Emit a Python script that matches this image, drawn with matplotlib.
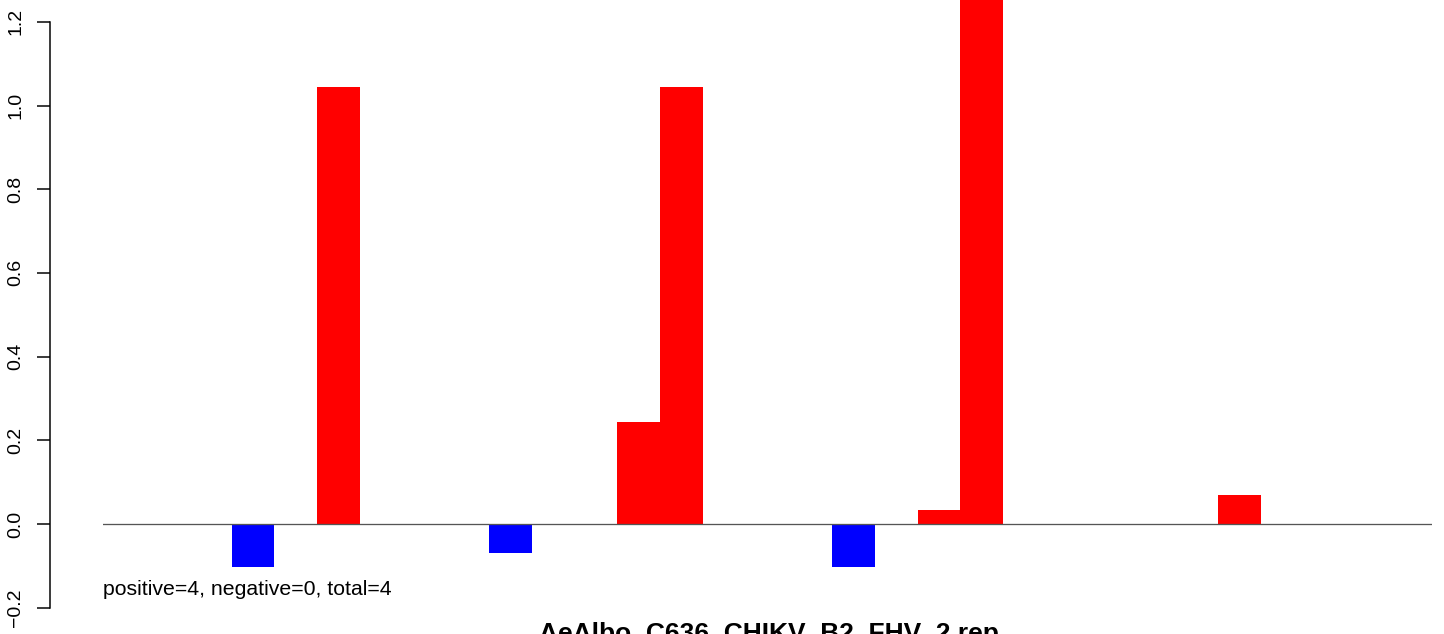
import matplotlib
matplotlib.use("Agg")
import matplotlib.pyplot as plt
import numpy as np

plt.rcParams['font.family'] = ['Liberation Sans', 'DejaVu Sans']

# Bar slots (one per position along the x axis); 0 = empty slot
values = [-0.103, 0, 1.045, 0, 0, 0, -0.069, 0, 0, 0.244, 1.045,
          0, 0, 0, -0.103, 0, 0.033, 1.30, 0, 0, 0, 0, 0, 0.069,
          0, 0, 0, 0]
yticks = [-0.2, 0.0, 0.2, 0.4, 0.6, 0.8, 1.0, 1.2]
title = "AeAlbo_C636_CHIKV_B2_FHV_2 rep"
note = "positive=4, negative=0, total=4"

W, H = 1444, 634
PT = 72 / 100  # points per pixel at dpi 100
fig = plt.figure(figsize=(W / 100, H / 100), dpi=100)
ax = fig.add_axes([103 / W, 0, 1329 / W, 1])

x = np.arange(len(values))
vals = np.array(values)
colors = np.where(vals < 0, '#0000FF', '#FF0000')
ax.bar(x, vals, width=1.0, align='edge', color=colors, linewidth=0)
ax.axhline(0, color='#555555', linewidth=1.3 * PT)

px_per_unit = 418.5
y0_px = 524
ax.set_ylim((y0_px - H) / px_per_unit, y0_px / px_per_unit)
ax.set_xlim(-3, len(values))

for s in ['top', 'right', 'bottom']:
    ax.spines[s].set_visible(False)
ax.spines['left'].set_position(('outward', 53 * PT))
ax.spines['left'].set_bounds(yticks[0], yticks[-1])
ax.spines['left'].set_linewidth(1.5 * PT)
ax.set_xticks([])
ax.set_yticks(yticks)
ax.set_yticklabels([f"{t:.1f}".replace('-', '\u2212') for t in yticks],
                   rotation=90, va='center', fontsize=14)
ax.tick_params(axis='y', length=13 * PT, width=1.5 * PT, pad=13 * PT)

fig.text(103 / W, 1 - 595 / H, note, fontsize=15.3, ha='left', va='baseline')
fig.text(769 / W, 1 - 622 / H, title, fontsize=19, fontweight='bold',
         ha='center', va='top')

fig.savefig('out.png', dpi=100)
